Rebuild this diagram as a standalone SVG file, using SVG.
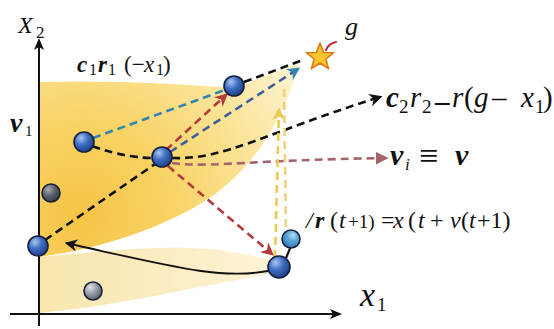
<svg xmlns="http://www.w3.org/2000/svg" width="554" height="329" viewBox="0 0 554 329">
<defs>
<style>
text,tspan{font-family:'Liberation Serif','DejaVu Serif',serif}
.t{font-style:italic;fill:#111}
.n{font-style:normal}
.b{font-weight:bold}
.d{fill:none;stroke-width:2.6;stroke-dasharray:8 5}
.ax{stroke:#111;stroke-width:2;fill:none}
.node{stroke:#15203a;stroke-width:1.6}
</style>
<radialGradient id="blue" cx="0.35" cy="0.3" r="0.75">
<stop offset="0" stop-color="#a9c6f0"/><stop offset="0.45" stop-color="#3f6fc4"/><stop offset="1" stop-color="#1d3c84"/>
</radialGradient>
<radialGradient id="grey" cx="0.35" cy="0.3" r="0.75">
<stop offset="0" stop-color="#a6abb3"/><stop offset="0.5" stop-color="#5d626b"/><stop offset="1" stop-color="#33373e"/>
</radialGradient>
<radialGradient id="grey2" cx="0.35" cy="0.3" r="0.75">
<stop offset="0" stop-color="#e2e5ea"/><stop offset="0.5" stop-color="#959ba5"/><stop offset="1" stop-color="#5b616b"/>
</radialGradient>
<radialGradient id="lblue" cx="0.6" cy="0.3" r="0.8">
<stop offset="0" stop-color="#b9dcf3"/><stop offset="0.4" stop-color="#5aa6dc"/><stop offset="1" stop-color="#2a6fae"/>
</radialGradient>
<radialGradient id="fan" cx="80" cy="215" r="250" gradientUnits="userSpaceOnUse">
<stop offset="0" stop-color="#f6c447"/><stop offset="0.35" stop-color="#f8d263"/><stop offset="0.7" stop-color="#fbe396"/><stop offset="1" stop-color="#fdf2cc"/>
</radialGradient>
<linearGradient id="band" x1="0" y1="0" x2="1" y2="0">
<stop offset="0" stop-color="#f9e6ad"/><stop offset="1" stop-color="#fdf3d6"/>
</linearGradient>
<marker id="mk" viewBox="0 0 10 10" refX="8" refY="5" markerWidth="5" markerHeight="5" orient="auto" markerUnits="strokeWidth"><path d="M0,0 L10,5 L0,10 L3,5 Z" fill="#111"/></marker>
<marker id="mt" viewBox="0 0 10 10" refX="8" refY="5" markerWidth="5" markerHeight="5" orient="auto" markerUnits="strokeWidth"><path d="M0,0 L10,5 L0,10 L3,5 Z" fill="#2f86ad"/></marker>
<marker id="mr" viewBox="0 0 10 10" refX="8" refY="5" markerWidth="5" markerHeight="5" orient="auto" markerUnits="strokeWidth"><path d="M0,0 L10,5 L0,10 L3,5 Z" fill="#b23b3b"/></marker>
<marker id="mm" viewBox="0 0 10 10" refX="8" refY="5" markerWidth="5" markerHeight="5" orient="auto" markerUnits="strokeWidth"><path d="M0,0 L10,5 L0,10 Z" fill="#a4646c"/></marker>
<marker id="my" viewBox="0 0 10 10" refX="8" refY="5" markerWidth="5" markerHeight="5" orient="auto" markerUnits="strokeWidth"><path d="M0,0 L10,5 L0,10 L3,5 Z" fill="#edc955"/></marker>
<marker id="ma" viewBox="0 0 10 10" refX="9" refY="5" markerWidth="7" markerHeight="7" orient="auto" markerUnits="strokeWidth"><path d="M0,0 L10,5 L0,10 L3,5 Z" fill="#111"/></marker>
</defs>
<rect width="554" height="329" fill="#fff"/>

<g id="shading">
<path d="M39,82 C110,80 180,84 236,88 L300,62 C285,115 255,175 190,210 C140,236 90,250 39,257 Z" fill="url(#fan)"/>
<path d="M39,257 C120,250 200,238 276,262 L280,272 C200,286 120,306 39,313 Z" fill="url(#band)"/>
</g>

<g id="axes">
<path class="ax" d="M39,326 V44"/>
<path d="M39,38 L34,50 L39,47 L44,50 Z" fill="#111"/>
<path class="ax" d="M10,314 H336"/>
<path d="M342,314 L330,309 L333,314 L330,319 Z" fill="#111"/>
</g>

<g id="connectors">
<path class="d" stroke="#111" d="M244,82 L303,60"/>
<path class="d" stroke="#2f86ad" d="M93,138 L225,90"/>
<path class="d" stroke="#b23b3b" d="M166,150 L226,95" marker-end="url(#mr)"/>
<path class="d" stroke="#3d5f9a" d="M170,152 L298,69" marker-end="url(#mt)"/>
<path class="d" stroke="#111" d="M92,146 C120,156 140,158 153,158"/>
<path class="d" stroke="#111" d="M45,240 L155,164"/>
<path class="d" stroke="#111" d="M172,158 C225,160 262,134 380,97" marker-end="url(#mk)"/>
<path class="d" stroke="#a4646c" d="M172,163 C210,168 250,160 386,158" marker-end="url(#mm)"/>
<path class="d" stroke="#b23b3b" d="M168,166 L272,254" marker-end="url(#mr)"/>
<path class="d" stroke="#edc955" d="M275,258 L279,110" marker-end="url(#my)"/>
<path class="d" stroke="#efd27a" d="M286,240 L284,84"/>
<path d="M268,271 C220,280 170,266 66,243" fill="none" stroke="#111" stroke-width="1.8" marker-end="url(#ma)"/>
<path d="M286,258 L291,246" stroke="#111" stroke-width="2.2"/>
</g>

<g id="star">
<path d="M320,43 L323.6,52.5 L333.5,52.8 L325.8,59 L328.6,68.7 L320,63 L311.4,68.7 L314.2,59 L306.5,52.8 L316.4,52.5 Z" fill="#f8c52f" stroke="#e07812" stroke-width="1.6" stroke-linejoin="round"/>
<path d="M326,50 C328,45 331,43 336,42" fill="none" stroke="#c5283a" stroke-width="2.2" stroke-linecap="round"/>
</g>

<g id="nA"><circle class="node" cx="234" cy="86" r="10" fill="url(#blue)"/></g>
<g id="nB"><circle class="node" cx="84" cy="142" r="10" fill="url(#blue)"/></g>
<g id="nC"><circle class="node" cx="162" cy="157" r="10" fill="url(#blue)"/></g>
<g id="nD"><circle class="node" cx="38" cy="246" r="10" fill="url(#blue)"/></g>
<g id="nE"><circle class="node" cx="279" cy="267" r="11" fill="url(#blue)"/></g>
<g id="nF"><circle class="node" cx="291" cy="239" r="9" fill="url(#lblue)"/></g>
<g id="nG1"><circle class="node" cx="51" cy="193" r="9" fill="url(#grey)"/></g>
<g id="nG2"><circle class="node" cx="93" cy="291" r="9" fill="url(#grey2)"/></g>

<g id="labels" font-family="Liberation Serif, DejaVu Serif, serif">
<text class="t" x="18" y="33" font-size="24">X<tspan class="n" font-size="17" x="36" y="38">2</tspan></text>
<text class="t b" x="10" y="132" font-size="28">v<tspan class="n" font-size="15" font-weight="normal" x="25" y="136">1</tspan></text>
<text class="t" y="72" font-size="23"><tspan class="b" x="77">c</tspan><tspan class="n" font-size="16" x="89" y="75">1</tspan><tspan class="b" x="98" y="72">r</tspan><tspan class="n" font-size="16" x="108" y="75">1</tspan><tspan class="n" x="124" y="72">(−</tspan><tspan x="144">x</tspan><tspan class="n" font-size="16" x="156" y="75">1</tspan><tspan class="n" x="163" y="72">)</tspan></text>
<text class="t" x="345" y="35" font-size="26">g</text>
<text class="t" y="107" font-size="29"><tspan class="b" x="386">c</tspan><tspan class="n" font-size="19" x="399" y="113">2</tspan><tspan x="410" y="107">r</tspan><tspan class="n" font-size="19" x="422" y="113">2</tspan><tspan class="n b" x="435" y="111">–</tspan><tspan x="452" y="107">r</tspan><tspan class="n" x="464">(</tspan><tspan x="474">g</tspan><tspan class="n" x="492">–</tspan><tspan x="521">x</tspan><tspan class="n" font-size="19" x="535" y="113">1</tspan><tspan class="n" x="543" y="107">)</tspan></text>
<text class="t" y="165" font-size="30"><tspan class="b" x="390">v</tspan><tspan font-size="17" x="405" y="170">i</tspan><tspan class="n" font-size="34" x="419" y="167">≡</tspan><tspan class="b" x="455" y="165">v</tspan></text>
<text class="t" y="228" font-size="24"><tspan x="306">/</tspan><tspan class="b" x="315">r</tspan><tspan class="n" x="330">(</tspan><tspan x="339">t</tspan><tspan class="n" font-size="19" x="348">+1)</tspan><tspan class="n" x="381">=</tspan><tspan x="393">x</tspan><tspan class="n" x="408">(</tspan><tspan x="418">t</tspan><tspan class="n" x="430">+</tspan><tspan x="450">v</tspan><tspan class="n" x="461">(</tspan><tspan x="469">t</tspan><tspan class="n" x="477">+1)</tspan></text>
<text class="t" x="360" y="306" font-size="34">x<tspan class="n" font-size="19" x="377" y="311">1</tspan></text>
</g>
</svg>
